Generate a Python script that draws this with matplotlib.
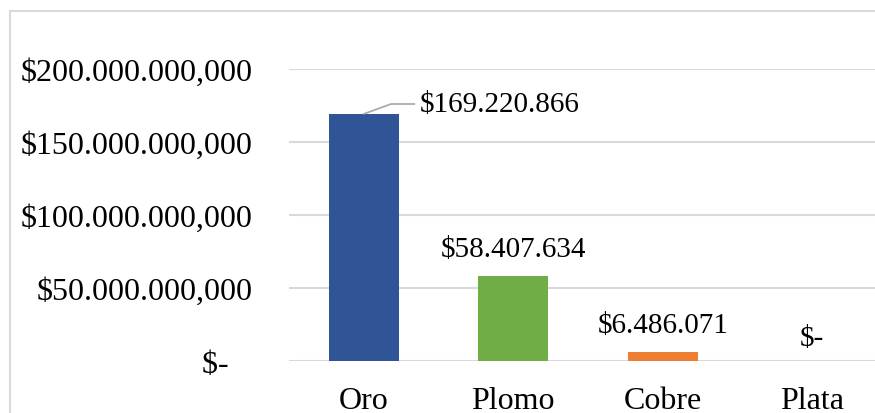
import matplotlib.pyplot as plt
from matplotlib.ticker import FuncFormatter
from matplotlib.lines import Line2D

plt.rcParams['font.family'] = ['Liberation Serif', 'DejaVu Serif']

# Datos
minerales = ['Oro', 'Plomo', 'Cobre', 'Plata']
valores = [169220866, 58407634, 6486071, 0]
colores = ['#2F5597', '#70AD47', '#ED7D31', '#A5A5A5']


def fmt_miles(v, decimales=False):
    if v == 0:
        return '$-'
    s = f'{int(round(v)):,}'.replace(',', '.')
    if decimales:
        s += ',000'
    return '$' + s


fig = plt.figure(figsize=(8.75, 4.14), dpi=100)
# borde del grafico (solo se ve arriba y a la izquierda)
bx, by = 9.5 / 875, 1 - 12 / 414
fig.lines.append(Line2D([bx, bx], [-0.1, by], transform=fig.transFigure,
                        color='#d9d9d9', linewidth=1.5))
fig.lines.append(Line2D([bx, 1.1], [by, by], transform=fig.transFigure,
                        color='#d9d9d9', linewidth=1.5))

ax = fig.add_axes([289 / 875, 1 - 362 / 414, 598 / 875, 292 / 414])
x = range(len(minerales))
ax.bar(x, valores, width=0.47, color=colores, zorder=3)

ax.set_ylim(0, 200000000)
ax.set_xlim(-0.5, len(minerales) - 0.5)
ax.set_yticks([0, 50000000, 100000000, 150000000, 200000000])
ax.yaxis.set_major_formatter(FuncFormatter(
    lambda v, p: '$-   ' if v == 0 else fmt_miles(v, True)))
ax.set_xticks(list(x))
ax.set_xticklabels(minerales)
ax.tick_params(axis='y', length=0, pad=26, labelsize=23)
ax.tick_params(axis='x', length=0, pad=18, labelsize=23)
ax.grid(axis='y', color='#d9d9d9', linewidth=1.5, zorder=0)
for s in ax.spines.values():
    s.set_visible(False)

# Etiquetas de datos
for i, v in enumerate(valores):
    txt = fmt_miles(v)
    if i == 0:
        ax.annotate(txt, xy=(i, v), xytext=(420 / 875, 1 - 105 / 414),
                    textcoords='figure fraction', ha='left', va='center',
                    fontsize=21,
                    arrowprops=dict(arrowstyle='-', color='#a6a6a6', lw=1.2,
                                    connectionstyle='angle,angleA=0,angleB=20,rad=0',
                                    shrinkA=2, shrinkB=0))
    else:
        ax.annotate(txt, xy=(i, v), xytext=(0, 10 if v else 7),
                    textcoords='offset points', ha='center', va='bottom',
                    fontsize=21)

fig.savefig('out.png', dpi=100)
plt.close(fig)
